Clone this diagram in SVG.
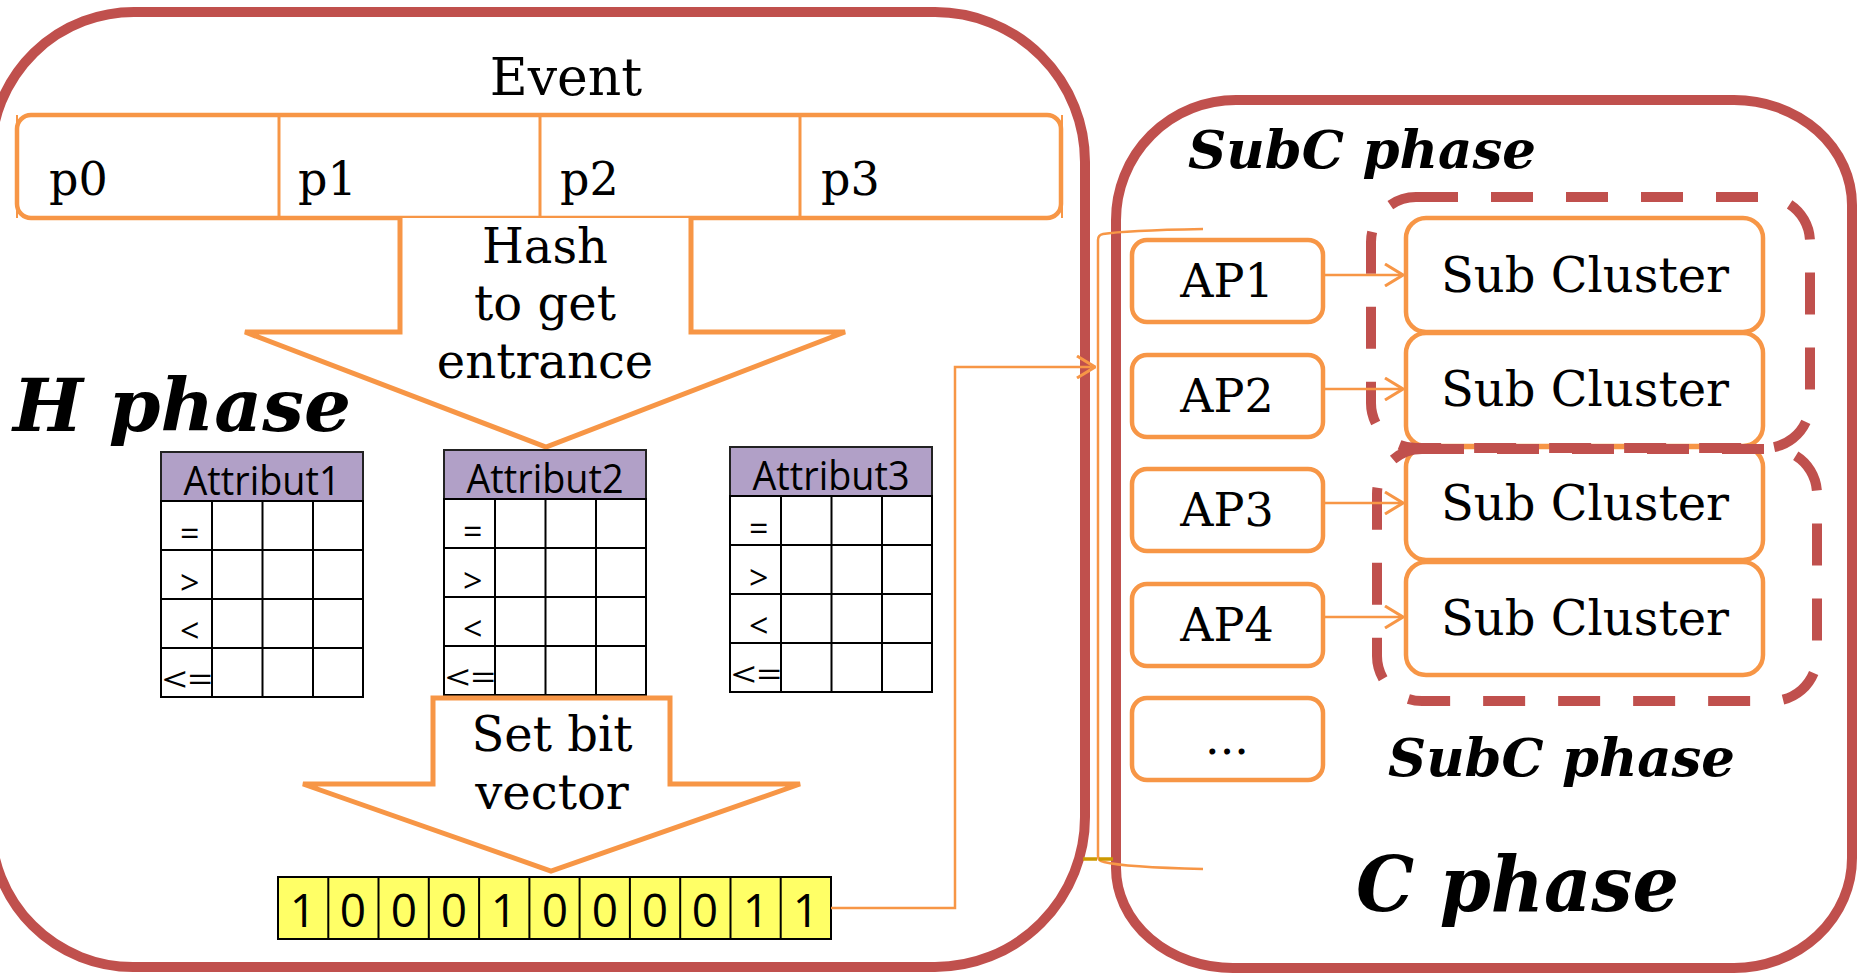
<svg xmlns="http://www.w3.org/2000/svg" width="1857" height="973" viewBox="0 0 1857 973">
  <defs>
    <style>
      .phase { fill: none; stroke: #C0504D; stroke-width: 10; }
      .group { fill: none; stroke: #C0504D; stroke-width: 10; stroke-dasharray: 42 33; }
      .orange { fill: #FFFFFF; stroke: #F79646; stroke-width: 4.5; }
      .bigarrow { fill: #FFFFFF; stroke: #F79646; stroke-width: 5; stroke-linejoin: miter; }
      .wire { fill: none; stroke: #F79646; stroke-width: 2.5; }
      .serif { font-family: "DejaVu Serif", "Liberation Serif", serif; fill: #000000; }
      .title { font-family: "DejaVu Serif", "Liberation Serif", serif; font-weight: bold; font-style: italic; fill: #000000; }
      .sans { font-family: "Open Sans", "DejaVu Sans", sans-serif; fill: #000000; }
      .op { font-family: "Open Sans", "DejaVu Sans", sans-serif; font-size: 34px; fill: #000000; }
      .grid { fill: none; stroke: #000000; stroke-width: 2; }
      .head { fill: #B1A0C7; stroke: #222222; stroke-width: 2; }
      .bit { fill: #FFFF66; stroke: #000000; stroke-width: 2; }
    </style>
    <marker id="chev" viewBox="0 0 20 24" refX="19" refY="12" markerWidth="20" markerHeight="24" markerUnits="userSpaceOnUse" orient="auto">
      <path d="M1,1 L19,12 L1,23" fill="none" stroke="#F79646" stroke-width="3"/>
    </marker>
  </defs>

  <rect width="1857" height="973" fill="#FFFFFF"/>

  <!-- H phase container -->
  <g id="h-phase">
    <path class="phase" d="M137,12 H935 A150,150 0 0 1 1085,162 V817 A150,150 0 0 1 935,967 H133 A142,142 0 0 1 -9,825 V155 A143,143 0 0 1 137,12 Z"/>
    <text class="title" x="13" y="431" font-size="73" textLength="338" lengthAdjust="spacingAndGlyphs">H phase</text>
  </g>

  <!-- C phase container -->
  <g id="c-phase">
    <path class="phase" d="M1236,100 H1734 A118,105 0 0 1 1852,205 V858 A118,110 0 0 1 1734,968 H1233 A117,100 0 0 1 1116,868 V220 A120,120 0 0 1 1236,100 Z"/>
    <text class="title" x="1188" y="168" font-size="52" textLength="348" lengthAdjust="spacingAndGlyphs">SubC phase</text>
    <text class="title" x="1356" y="911" font-size="76" textLength="323" lengthAdjust="spacingAndGlyphs">C phase</text>
  </g>

  <!-- Event record -->
  <g id="event">
    <text class="serif" x="566" y="95" font-size="52" text-anchor="middle">Event</text>
    <rect class="orange" x="17" y="115" width="1044" height="103" rx="14" fill="none"/>
    <line x1="17" y1="115" x2="17" y2="218" stroke="#F79646" stroke-width="2"/>
    <line x1="1062" y1="115" x2="1062" y2="218" stroke="#F79646" stroke-width="2"/>
    <line x1="279" y1="115" x2="279" y2="218" stroke="#F79646" stroke-width="3"/>
    <line x1="540" y1="115" x2="540" y2="218" stroke="#F79646" stroke-width="3"/>
    <line x1="800" y1="115" x2="800" y2="218" stroke="#F79646" stroke-width="3"/>
    <text class="serif" font-size="46" y="195"><tspan x="49">p0</tspan><tspan x="298">p1</tspan><tspan x="560">p2</tspan><tspan x="821">p3</tspan></text>
  </g>

  <!-- Hash arrow -->
  <g id="hash-arrow">
    <path class="bigarrow" d="M400,218 V332 H245 L546,447 L845,332 H691 V218"/>
    <text class="serif" font-size="48" text-anchor="middle"><tspan x="545" y="263">Hash</tspan><tspan x="545" y="320">to get</tspan><tspan x="545" y="378">entrance</tspan></text>
  </g>

  <!-- Attribute tables: header, 4 operator rows x 3 bit columns -->
  <g id="attribut1" transform="translate(161,452)">
    <rect class="head" x="0" y="0" width="202" height="49"/>
    <text class="sans" x="101" y="43" font-size="40" text-anchor="middle" textLength="157" lengthAdjust="spacingAndGlyphs">Attribut1</text>
    <path class="grid" d="M0,49 H202 V245 H0 Z M0,98 H202 M0,147 H202 M0,196 H202 M51,49 V245 M101.5,49 V245 M152,49 V245"/>
    <text class="op" x="19" y="94">=</text>
    <text class="op" x="19" y="143">&gt;</text>
    <text class="op" x="19" y="191">&lt;</text>
    <text class="op" x="1" y="240" textLength="51" lengthAdjust="spacingAndGlyphs">&lt;=</text>
  </g>
  <g id="attribut2" transform="translate(444,450)">
    <rect class="head" x="0" y="0" width="202" height="49"/>
    <text class="sans" x="101" y="43" font-size="40" text-anchor="middle" textLength="157" lengthAdjust="spacingAndGlyphs">Attribut2</text>
    <path class="grid" d="M0,49 H202 V245 H0 Z M0,98 H202 M0,147 H202 M0,196 H202 M51,49 V245 M101.5,49 V245 M152,49 V245"/>
    <text class="op" x="19" y="94">=</text>
    <text class="op" x="19" y="143">&gt;</text>
    <text class="op" x="19" y="191">&lt;</text>
    <text class="op" x="1" y="240" textLength="51" lengthAdjust="spacingAndGlyphs">&lt;=</text>
  </g>
  <g id="attribut3" transform="translate(730,447)">
    <rect class="head" x="0" y="0" width="202" height="49"/>
    <text class="sans" x="101" y="43" font-size="40" text-anchor="middle" textLength="157" lengthAdjust="spacingAndGlyphs">Attribut3</text>
    <path class="grid" d="M0,49 H202 V245 H0 Z M0,98 H202 M0,147 H202 M0,196 H202 M51,49 V245 M101.5,49 V245 M152,49 V245"/>
    <text class="op" x="19" y="94">=</text>
    <text class="op" x="19" y="143">&gt;</text>
    <text class="op" x="19" y="191">&lt;</text>
    <text class="op" x="1" y="240" textLength="51" lengthAdjust="spacingAndGlyphs">&lt;=</text>
  </g>

  <!-- Set bit arrow -->
  <g id="setbit-arrow">
    <path class="bigarrow" d="M433,698 H670 V784 H800 L551,871 L303,784 H433 Z"/>
    <text class="serif" font-size="48" text-anchor="middle"><tspan x="552" y="751">Set bit</tspan><tspan x="552" y="809">vector</tspan></text>
  </g>

  <!-- Bit vector -->
  <g id="bit-vector">
    <rect class="bit" x="278" y="877" width="553" height="62"/>
    <path class="grid" d="M328.3,877 V939 M378.5,877 V939 M428.8,877 V939 M479.1,877 V939 M529.4,877 V939 M579.6,877 V939 M629.9,877 V939 M680.2,877 V939 M730.5,877 V939 M780.7,877 V939"/>
    <text class="sans" font-size="46" y="927" text-anchor="middle"><tspan x="303">1</tspan><tspan x="353">0</tspan><tspan x="404">0</tspan><tspan x="454">0</tspan><tspan x="504">1</tspan><tspan x="555">0</tspan><tspan x="605">0</tspan><tspan x="655">0</tspan><tspan x="705">0</tspan><tspan x="756">1</tspan><tspan x="806">1</tspan></text>
  </g>

  <!-- Access points -->
  <g id="ap1"><rect class="orange" x="1132" y="240" width="191" height="82" rx="15"/><text class="serif" x="1227" y="297" font-size="46" text-anchor="middle">AP1</text></g>
  <g id="ap2"><rect class="orange" x="1132" y="355" width="191" height="82" rx="15"/><text class="serif" x="1227" y="412" font-size="46" text-anchor="middle">AP2</text></g>
  <g id="ap3"><rect class="orange" x="1132" y="469" width="191" height="82" rx="15"/><text class="serif" x="1227" y="526" font-size="46" text-anchor="middle">AP3</text></g>
  <g id="ap4"><rect class="orange" x="1132" y="584" width="191" height="82" rx="15"/><text class="serif" x="1227" y="641" font-size="46" text-anchor="middle">AP4</text></g>
  <g id="ap-more"><rect class="orange" x="1132" y="698" width="191" height="82" rx="15"/><text class="serif" x="1227" y="754" font-size="46" text-anchor="middle">...</text></g>

  <!-- Sub clusters -->
  <g id="sub-cluster-1"><rect class="orange" x="1406" y="218" width="357" height="114" rx="20"/><text class="serif" x="1585" y="292" font-size="48" text-anchor="middle">Sub Cluster</text></g>
  <g id="sub-cluster-2"><rect class="orange" x="1406" y="333" width="357" height="113" rx="20"/><text class="serif" x="1585" y="406" font-size="48" text-anchor="middle">Sub Cluster</text></g>
  <g id="sub-cluster-3"><rect class="orange" x="1406" y="447" width="357" height="113" rx="20"/><text class="serif" x="1585" y="520" font-size="48" text-anchor="middle">Sub Cluster</text></g>
  <g id="sub-cluster-4"><rect class="orange" x="1406" y="562" width="357" height="113" rx="20"/><text class="serif" x="1585" y="635" font-size="48" text-anchor="middle">Sub Cluster</text></g>

  <!-- SubC phase groupings -->
  <g id="subc-group-1">
    <rect class="group" x="1371" y="197" width="439" height="251" rx="45"/>
  </g>
  <g id="subc-group-2">
    <rect class="group" x="1377" y="449" width="440" height="252" rx="45"/>
    <text class="title" x="1388" y="776" font-size="52" textLength="347" lengthAdjust="spacingAndGlyphs">SubC phase</text>
  </g>

  <!-- Connectors -->
  <g id="connectors">
    <path class="wire" d="M831,908 H955 V367 H1095" marker-end="url(#chev)"/>
    <path class="wire" stroke-width="2" d="M1203,229 C1150,230 1115,232 1103,234 Q1098,235 1098,240 V856 Q1098,861 1104,862 C1120,866 1160,868 1203,869"/>
    <line x1="1083" y1="859" x2="1097" y2="859" stroke="#CC9900" stroke-width="3.5"/>
    <line x1="1099" y1="859" x2="1113" y2="859" stroke="#CC9900" stroke-width="3.5"/>
    <path class="wire" d="M1323,275 H1403" marker-end="url(#chev)"/>
    <path class="wire" d="M1323,389 H1403" marker-end="url(#chev)"/>
    <path class="wire" d="M1323,503 H1403" marker-end="url(#chev)"/>
    <path class="wire" d="M1323,617 H1403" marker-end="url(#chev)"/>
  </g>
</svg>
